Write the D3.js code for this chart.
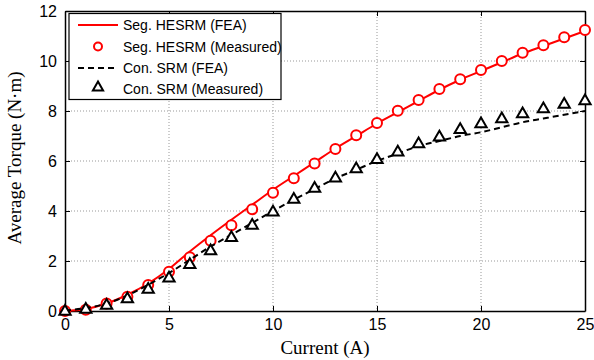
<!DOCTYPE html>
<html><head><meta charset="utf-8">
<script src="https://cdn.jsdelivr.net/npm/d3@7"></script>
<style>body{margin:0;background:#fff}</style>
</head><body>
<svg id="c" width="594" height="360"></svg>
<script>
const current = d3.range(0, 26);
const hesrmFEA = [0,0.08,0.3,0.65,1.1,1.68,2.38,3.03,3.65,4.25,4.85,5.4,5.95,6.5,7.0,7.5,7.95,8.4,8.85,9.25,9.6,9.95,10.3,10.6,10.9,11.2];
const hesrmMeas = [0,0.05,0.3,0.57,1.04,1.57,2.15,2.81,3.43,4.07,4.73,5.31,5.9,6.48,7.03,7.52,8.01,8.44,8.88,9.27,9.64,10.0,10.33,10.63,10.95,11.24];
const srmFEA = [0.02,0.12,0.3,0.62,1.05,1.52,2.05,2.58,3.05,3.52,4.0,4.45,4.88,5.3,5.65,6.0,6.3,6.6,6.8,7.0,7.15,7.35,7.55,7.7,7.85,8.0];
const srmMeas = [0,0.08,0.24,0.5,0.88,1.33,1.87,2.42,2.95,3.44,3.97,4.48,4.92,5.33,5.7,6.07,6.37,6.7,6.97,7.27,7.5,7.7,7.9,8.1,8.28,8.42];
const xTicks = [0,5,10,15,20,25];
const yTicks = [0,2,4,6,8,10,12];
const legendLabels = ["Seg. HESRM (FEA)","Seg. HESRM (Measured)","Con. SRM (FEA)","Con. SRM (Measured)"];

const svg = d3.select("#c");
const L=65, R=585, T=11, B=311;
const x = d3.scaleLinear().domain([0,25]).range([L,R]);
const y = d3.scaleLinear().domain([0,12]).range([B,T]);
const tickFont = "'Liberation Sans', Arial, sans-serif";
const labFont = "'Liberation Serif', 'Times New Roman', serif";

// grid
const g = svg.append("g");
g.selectAll(".gx").data(xTicks.slice(1,-1)).enter().append("line")
  .attr("x1",d=>x(d)).attr("x2",d=>x(d)).attr("y1",T).attr("y2",B)
  .attr("stroke","#999").attr("stroke-width",1).attr("stroke-dasharray","1,2");
g.selectAll(".gy").data(yTicks.slice(1,-1)).enter().append("line")
  .attr("y1",d=>y(d)).attr("y2",d=>y(d)).attr("x1",L).attr("x2",R)
  .attr("stroke","#999").attr("stroke-width",1).attr("stroke-dasharray","1,2");

// axes
svg.append("g").attr("transform",`translate(0,${B})`)
  .call(d3.axisBottom(x).tickValues(xTicks).tickSizeInner(-5).tickSizeOuter(0).tickPadding(8));
svg.append("g").attr("transform",`translate(${L},0)`)
  .call(d3.axisLeft(y).tickValues(yTicks).tickSizeInner(-5).tickSizeOuter(0).tickPadding(8));
svg.append("g").attr("transform",`translate(0,${T})`)
  .call(d3.axisTop(x).tickValues(xTicks).tickSizeInner(-5).tickSizeOuter(0).tickFormat(""));
svg.append("g").attr("transform",`translate(${R},0)`)
  .call(d3.axisRight(y).tickValues(yTicks).tickSizeInner(-5).tickSizeOuter(0).tickFormat(""));
svg.selectAll(".domain").attr("stroke","#000").attr("stroke-width",1.5);
svg.selectAll(".tick line").attr("stroke","#000");
svg.selectAll(".tick text").attr("font-family",tickFont).attr("font-size",16).attr("fill","#000");

// series
const line = d3.line().x((d,i)=>x(current[i])).y(d=>y(d)).curve(d3.curveMonotoneX);
const plot = svg.append("g");
plot.append("path").datum(hesrmFEA).attr("d",line).attr("fill","none").attr("stroke","#ff0000").attr("stroke-width",2);
plot.selectAll(".c").data(hesrmMeas).enter().append("circle")
  .attr("cx",(d,i)=>x(current[i])).attr("cy",d=>y(d)).attr("r",5)
  .attr("fill","#fff").attr("stroke","#ff0000").attr("stroke-width",2);
plot.append("path").datum(srmFEA).attr("d",line).attr("fill","none").attr("stroke","#000").attr("stroke-width",2).attr("stroke-dasharray","6,4");
const tri = d3.symbol().type(d3.symbolTriangle).size(55);
plot.selectAll(".t").data(srmMeas).enter().append("path")
  .attr("d",tri).attr("transform",(d,i)=>`translate(${x(current[i])},${y(d)+0.5})`)
  .attr("fill","#fff").attr("stroke","#000").attr("stroke-width",2);

// legend
const lg = svg.append("g");
lg.append("rect").attr("x",69).attr("y",13.5).attr("width",212).attr("height",86)
  .attr("fill","#fff").attr("stroke","#000").attr("stroke-width",1.2);
const rows = [25,46.5,68,88.5];
lg.append("line").attr("x1",78).attr("x2",118).attr("y1",rows[0]).attr("y2",rows[0]).attr("stroke","#ff0000").attr("stroke-width",2);
lg.append("circle").attr("cx",98).attr("cy",rows[1]).attr("r",4).attr("fill","#fff").attr("stroke","#ff0000").attr("stroke-width",2);
lg.append("line").attr("x1",78).attr("x2",118).attr("y1",rows[2]).attr("y2",rows[2]).attr("stroke","#000").attr("stroke-width",2).attr("stroke-dasharray","6,4");
lg.append("path").attr("d",d3.symbol().type(d3.symbolTriangle).size(45)).attr("transform",`translate(98,${rows[3]-1})`).attr("fill","#fff").attr("stroke","#000").attr("stroke-width",2);
lg.selectAll(".lt").data(legendLabels).enter().append("text")
  .attr("x",123).attr("y",(d,i)=>rows[i]+5).text(d=>d)
  .attr("font-family",tickFont).attr("font-size",14).attr("fill","#000");

// axis labels
svg.append("text").attr("x",(L+R)/2).attr("y",354).attr("text-anchor","middle")
  .attr("font-family",labFont).attr("font-size",19).text("Current (A)");
svg.append("text").attr("transform",`translate(21,158) rotate(-90)`).attr("text-anchor","middle")
  .attr("font-family",labFont).attr("font-size",19).text("Average Torque (N·m)");
</script>
</body></html>
